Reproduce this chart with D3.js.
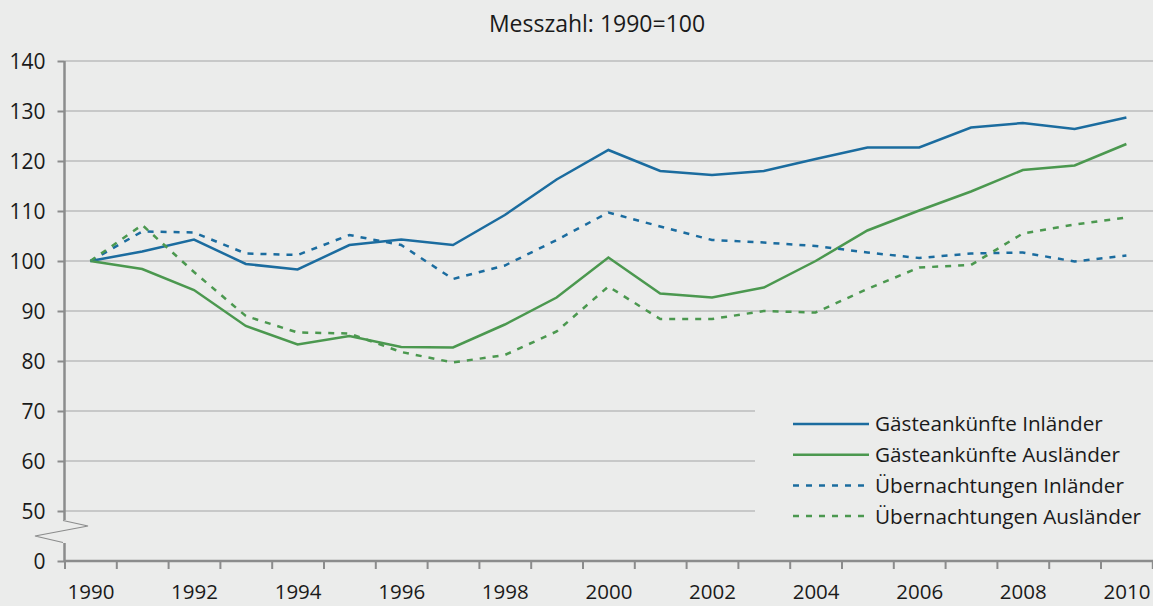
<!DOCTYPE html>
<html>
<head>
<meta charset="utf-8">
<script src="https://cdn.jsdelivr.net/npm/d3@7"></script>
<style>
  body { margin: 0; background: #ebeceb; }
  svg { display: block; }
  svg text { font-family: "Open Sans", sans-serif; fill: #1a1a1a; }
</style>
</head>
<body>
<svg id="chart" width="1153" height="606"></svg>
<script>
// chart data, index 1990 = 100
var years = d3.range(1990, 2011);
var ankuenfteInland = [100, 101.9, 104.3, 99.4, 98.3, 103.2, 104.3, 103.2, 109.2, 116.3, 122.2,
                       118.0, 117.2, 118.0, 120.4, 122.7, 122.7, 126.7, 127.6, 126.4, 128.7];
var ankuenfteAusland = [100, 98.4, 94.2, 87.0, 83.3, 85.0, 82.8, 82.7, 87.3, 92.7, 100.7,
                        93.5, 92.7, 94.7, 100.0, 106.1, 110.1, 113.9, 118.2, 119.1, 123.4];
var uebernachtInland = [100, 105.9, 105.7, 101.5, 101.2, 105.2, 103.2, 96.4, 99.1, 104.2, 109.7,
                        106.9, 104.2, 103.7, 103.0, 101.7, 100.6, 101.5, 101.7, 99.9, 101.1];
var uebernachtAusland = [100, 107.2, 97.8, 89.0, 85.7, 85.5, 81.8, 79.7, 81.2, 85.9, 94.9,
                         88.4, 88.4, 90.0, 89.7, 94.4, 98.7, 99.2, 105.5, 107.3, 108.7];
var seriesNames = ["Gästeankünfte Inländer", "Gästeankünfte Ausländer",
                   "Übernachtungen Inländer", "Übernachtungen Ausländer"];
var yTicks = [40, 50, 60, 70, 80, 90, 100, 110, 120, 130, 140];
var xLabels = [1990, 1992, 1994, 1996, 1998, 2000, 2002, 2004, 2006, 2008, 2010];
var title = "Messzahl: 1990=100";

var bg = "#ebeceb";
var blue = "#1b6c9f";
var green = "#4b984f";
var axisColor = "#8b8c8c";
var gridColor = "#c7c8c8";

var series = [
  {name: seriesNames[0], values: ankuenfteInland, color: blue, dash: null},
  {name: seriesNames[1], values: ankuenfteAusland, color: green, dash: null},
  {name: seriesNames[2], values: uebernachtInland, color: blue, dash: "6,7"},
  {name: seriesNames[3], values: uebernachtAusland, color: green, dash: "6,7"}
];

var svg = d3.select('#chart');
var plotLeft = 64.5, plotRight = 1152.3, plotTop = 61, plotBottom = 561;

// categories sit in the middle of each year slot
var x = d3.scaleLinear().domain([1989.5, 2010.5]).range([plotLeft, plotRight]);
var y = d3.scaleLinear().domain([40, 140]).range([plotBottom, plotTop]);

svg.append('rect').attr('width', 1153).attr('height', 606).attr('fill', bg);

svg.append('text')
  .attr('x', 597).attr('y', 32)
  .attr('text-anchor', 'middle')
  .style('font-size', '23px')
  .text(title);

// horizontal grid lines (the 40 slot is the broken "0" axis)
svg.append('g')
  .selectAll('line')
  .data(yTicks.filter(function(d) { return d > 40; }))
  .enter()
  .append('line')
  .attr('x1', plotLeft).attr('x2', 1153)
  .attr('y1', function(d) { return y(d); })
  .attr('y2', function(d) { return y(d); })
  .style('stroke', gridColor)
  .style('stroke-width', 2);

// y axis with ticks to the left
var yAxis = svg.append('g')
  .attr('transform', 'translate(' + plotLeft + ',0)')
  .call(d3.axisLeft(y).tickValues(yTicks).tickSize(7).tickPadding(12)
    .tickFormat(function(d) { return d === 40 ? "0" : d; }));
yAxis.select('.domain').remove();
yAxis.selectAll('line').style('stroke', axisColor).style('stroke-width', 2);
yAxis.selectAll('text').style('font-size', '21px').attr('dy', '0.36em');
yAxis.append('line')
  .attr('y1', plotTop).attr('y2', plotBottom)
  .style('stroke', axisColor).style('stroke-width', 2.5);

// axis break
svg.append('rect')
  .attr('x', 52).attr('y', 520).attr('width', 16).attr('height', 23)
  .attr('fill', bg);
svg.append('polyline')
  .attr('points', '63,520.5 88,526 35,536 63,542.5')
  .style('fill', 'none')
  .style('stroke', axisColor)
  .style('stroke-width', 1.2);

// x axis: ticks at slot borders, labels at slot centres
var xTickAxis = svg.append('g')
  .attr('transform', 'translate(0,' + plotBottom + ')')
  .call(d3.axisBottom(x).tickValues(d3.range(1989.5, 2011, 1)).tickSize(8).tickFormat(""));
xTickAxis.select('.domain').remove();
xTickAxis.selectAll('line').style('stroke', axisColor).style('stroke-width', 2);
xTickAxis.append('line')
  .attr('x1', plotLeft).attr('x2', 1153)
  .style('stroke', axisColor).style('stroke-width', 2.5);

var xLabelAxis = svg.append('g')
  .attr('transform', 'translate(0,' + plotBottom + ')')
  .call(d3.axisBottom(x).tickValues(xLabels).tickSize(0).tickPadding(23).tickFormat(d3.format('d')));
xLabelAxis.select('.domain').remove();
xLabelAxis.selectAll('text').style('font-size', '20.5px');

// legend backdrop hides the grid behind it
svg.append('rect')
  .attr('x', 755).attr('y', 400).attr('width', 398).attr('height', 138)
  .attr('fill', bg);

var line = d3.line()
  .x(function(d, i) { return x(years[i]); })
  .y(function(d) { return y(d); });

svg.append('g')
  .selectAll('path')
  .data(series)
  .enter()
  .append('path')
  .attr('d', function(d) { return line(d.values); })
  .style('fill', 'none')
  .style('stroke', function(d) { return d.color; })
  .style('stroke-width', 2.5)
  .style('stroke-dasharray', function(d) { return d.dash; });

var legend = svg.append('g')
  .selectAll('g')
  .data(series)
  .enter()
  .append('g')
  .attr('transform', function(d, i) { return 'translate(793,' + (424 + i * 30.7) + ')'; });

legend.append('line')
  .attr('x1', 0).attr('x2', 76)
  .style('stroke', function(d) { return d.color; })
  .style('stroke-width', 2.5)
  .style('stroke-dasharray', function(d) { return d.dash; });

legend.append('text')
  .attr('x', 82).attr('dy', '0.36em')
  .style('font-size', '20.7px')
  .text(function(d) { return d.name; });
</script>
</body>
</html>
